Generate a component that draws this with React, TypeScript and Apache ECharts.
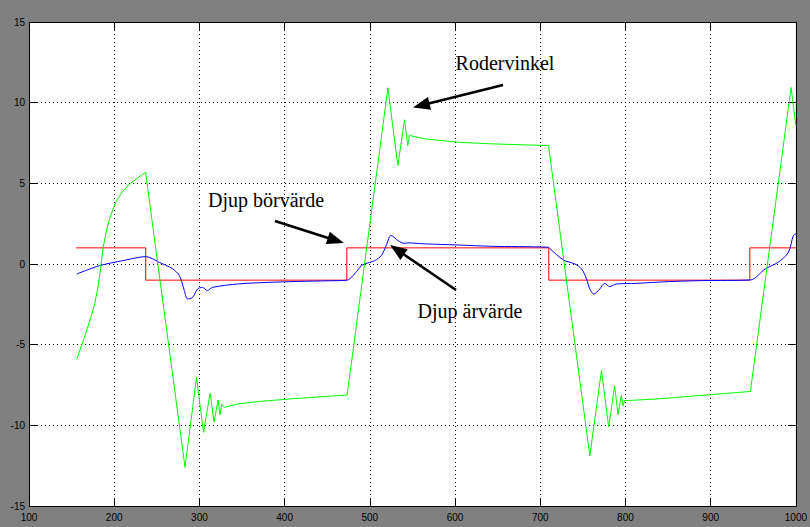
import React, { useEffect, useRef } from "react";
import * as echarts from "echarts";

// Djup börvärde (set-point), step signal
const borvarde: [number, number][] = [
  [155, 1], [237, 1], [237, -1], [473, -1], [473, 1], [710, 1], [710, -1], [946, -1], [946, 1], [1000, 1],
];

// Djup ärvärde (actual depth)
const arvarde: [number, number][] = [
  [156, -0.62], [183, -0.1], [210, 0.21], [230, 0.42], [237, 0.46], [253, 0.1], [268.6, -0.3],
  [276.5, -0.72], [282.3, -1.65], [286.1, -2.17], [292, -2.07], [297.8, -1.55], [303.6, -1.45],
  [309.4, -1.65], [315.3, -1.45], [346.4, -1.23], [385.2, -1.13], [424.1, -1.07], [462.9, -1.03],
  [473.4, -1.0], [486, -0.37], [490, -0.1], [494, 0.0], [505.7, 0.21], [513.4, 0.52], [519.2, 1.14],
  [523.2, 1.7], [525.1, 1.76], [532.9, 1.45], [540.7, 1.28], [544.5, 1.31], [564, 1.25],
  [602.8, 1.18], [641.3, 1.1], [709.7, 1.04], [711.5, 0.94], [727.2, 0.25], [740.7, 0.0],
  [748.5, -0.3], [754.3, -0.93], [758.2, -1.55], [762.9, -1.86], [769.8, -1.55], [775.7, -1.2],
  [781.5, -1.4], [789.3, -1.24], [812.6, -1.2], [851.4, -1.09], [890.3, -1.03], [946.6, -0.99],
  [964.1, -0.3], [979, 0.1], [991.2, 0.72], [997, 1.76], [1000, 1.87],
];

// Rodervinkel (rudder angle)
const rodervinkel: [number, number][] = [
  [156, -5.9], [160, -5.3], [166, -4.4], [172, -3.4], [177, -2.5], [181, -1.4], [184, -0.3],
  [187.1, 1.04], [191, 2.1], [195, 2.9], [202.7, 3.93], [210, 4.5], [218.2, 4.97], [228, 5.35],
  [236.8, 5.69], [283.1, -12.6], [296.6, -7.03], [304.8, -10.44],
  [312.6, -8.0], [317.2, -9.8], [321.9, -8.43], [324.2, -9.36], [326.2, -8.68], [328.9, -8.89],
  [344.4, -8.68], [369.7, -8.52], [410, -8.35], [473.4, -8.12], [521.2, 10.92], [532.9, 6.1],
  [540.7, 8.94], [544.5, 7.34], [546.4, 7.97], [564, 7.76], [602.8, 7.55], [641.3, 7.45],
  [709.7, 7.34], [758.2, -11.89], [771.8, -6.6], [780.3, -10.1], [787.3, -7.55], [791.3, -9.34],
  [795.1, -8.12], [797.1, -8.8], [799, -8.47], [836, -8.37], [946.6, -7.9], [994.4, 10.94],
  [1000, 8.58],
];

const xTicks = { min: 100, max: 1000, interval: 100 };
const yTicks = { min: -15, max: 15, interval: 5 };

const labels = {
  roder: "Rodervinkel",
  bor: "Djup börvärde",
  ar: "Djup ärvärde",
};

function arrow(x1: number, y1: number, tx: number, ty: number) {
  const dx = tx - x1;
  const dy = ty - y1;
  const len = Math.sqrt(dx * dx + dy * dy);
  const ux = dx / len;
  const uy = dy / len;
  const hl = 17;
  const hw = 6.5;
  const bx = tx - ux * hl;
  const by = ty - uy * hl;
  return [
    {
      type: "line",
      shape: { x1, y1, x2: bx + ux * 2, y2: by + uy * 2 },
      style: { stroke: "#000", lineWidth: 2.6 },
      z: 100,
    },
    {
      type: "polygon",
      shape: {
        points: [
          [tx, ty],
          [bx - uy * hw, by + ux * hw],
          [bx + uy * hw, by - ux * hw],
        ],
      },
      style: { fill: "#000" },
      z: 100,
    },
  ];
}

export default function App() {
  const ref = useRef<HTMLDivElement>(null);
  useEffect(() => {
    if (!ref.current) return;
    const chart = echarts.init(ref.current, null, { renderer: "svg" });
    const font = "Liberation Sans";
    const axisLineStyle = { color: "#000", width: 1 };
    const baseX = {
      type: "value" as const,
      ...xTicks,
      axisLine: { show: true, onZero: false, lineStyle: axisLineStyle },
      axisTick: { show: true, inside: true, length: 8, lineStyle: { color: "#000" } },
    };
    const baseY = {
      type: "value" as const,
      ...yTicks,
      axisLine: { show: true, onZero: false, lineStyle: axisLineStyle },
      axisTick: { show: true, inside: true, length: 8, lineStyle: { color: "#000" } },
    };
    const dotted = { show: true, lineStyle: { color: "#000", type: [1, 3] as any, width: 1 } };
    chart.setOption({
      animation: false,
      backgroundColor: "#808080",
      grid: { left: 29, right: 9, top: 22, bottom: 21, show: true, backgroundColor: "#ffffff", borderWidth: 0 },
      xAxis: [
        {
          ...baseX,
          position: "bottom",
          axisLabel: { color: "#000", fontSize: 10, fontFamily: font, margin: 6, formatter: (v: number) => String(v) },
          splitLine: dotted,
        },
        {
          ...baseX,
          position: "top",
          axisLabel: { show: false },
          splitLine: { show: false },
        },
      ],
      yAxis: [
        {
          ...baseY,
          position: "left",
          axisLabel: { color: "#000", fontSize: 10, fontFamily: font, margin: 4, formatter: (v: number) => String(v) },
          splitLine: dotted,
        },
        {
          ...baseY,
          position: "right",
          axisLabel: { show: false },
          splitLine: { show: false },
        },
      ],
      series: [
        {
          name: "börvärde",
          type: "line",
          data: borvarde,
          showSymbol: false,
          symbol: "none",
          lineStyle: { color: "#ff0000", width: 1 },
        },
        {
          name: "ärvärde",
          type: "line",
          data: arvarde,
          showSymbol: false,
          symbol: "none",
          smooth: 0.3,
          lineStyle: { color: "#0000ff", width: 1 },
        },
        {
          name: "rodervinkel",
          type: "line",
          data: rodervinkel,
          showSymbol: false,
          symbol: "none",
          lineStyle: { color: "#00ff00", width: 1 },
        },
      ],
      graphic: [
        {
          type: "text",
          x: 505,
          y: 63,
          style: { text: labels.roder, fill: "#000", fontSize: 20, fontFamily: "Liberation Serif", align: "center", verticalAlign: "middle" },
          z: 100,
        },
        {
          type: "text",
          x: 266,
          y: 200,
          style: { text: labels.bor, fill: "#000", fontSize: 20, fontFamily: "Liberation Serif", align: "center", verticalAlign: "middle" },
          z: 100,
        },
        {
          type: "text",
          x: 470,
          y: 311,
          style: { text: labels.ar, fill: "#000", fontSize: 20, fontFamily: "Liberation Serif", align: "center", verticalAlign: "middle" },
          z: 100,
        },
        ...arrow(503, 85, 413, 107.5),
        ...arrow(275, 221, 344, 243),
        ...arrow(456, 290, 390, 245),
      ],
    });
    return () => chart.dispose();
  }, []);
  return (
    <div
      ref={ref}
      style={{ position: "fixed", left: 0, top: 0, width: 810, height: 527 }}
    />
  );
}
